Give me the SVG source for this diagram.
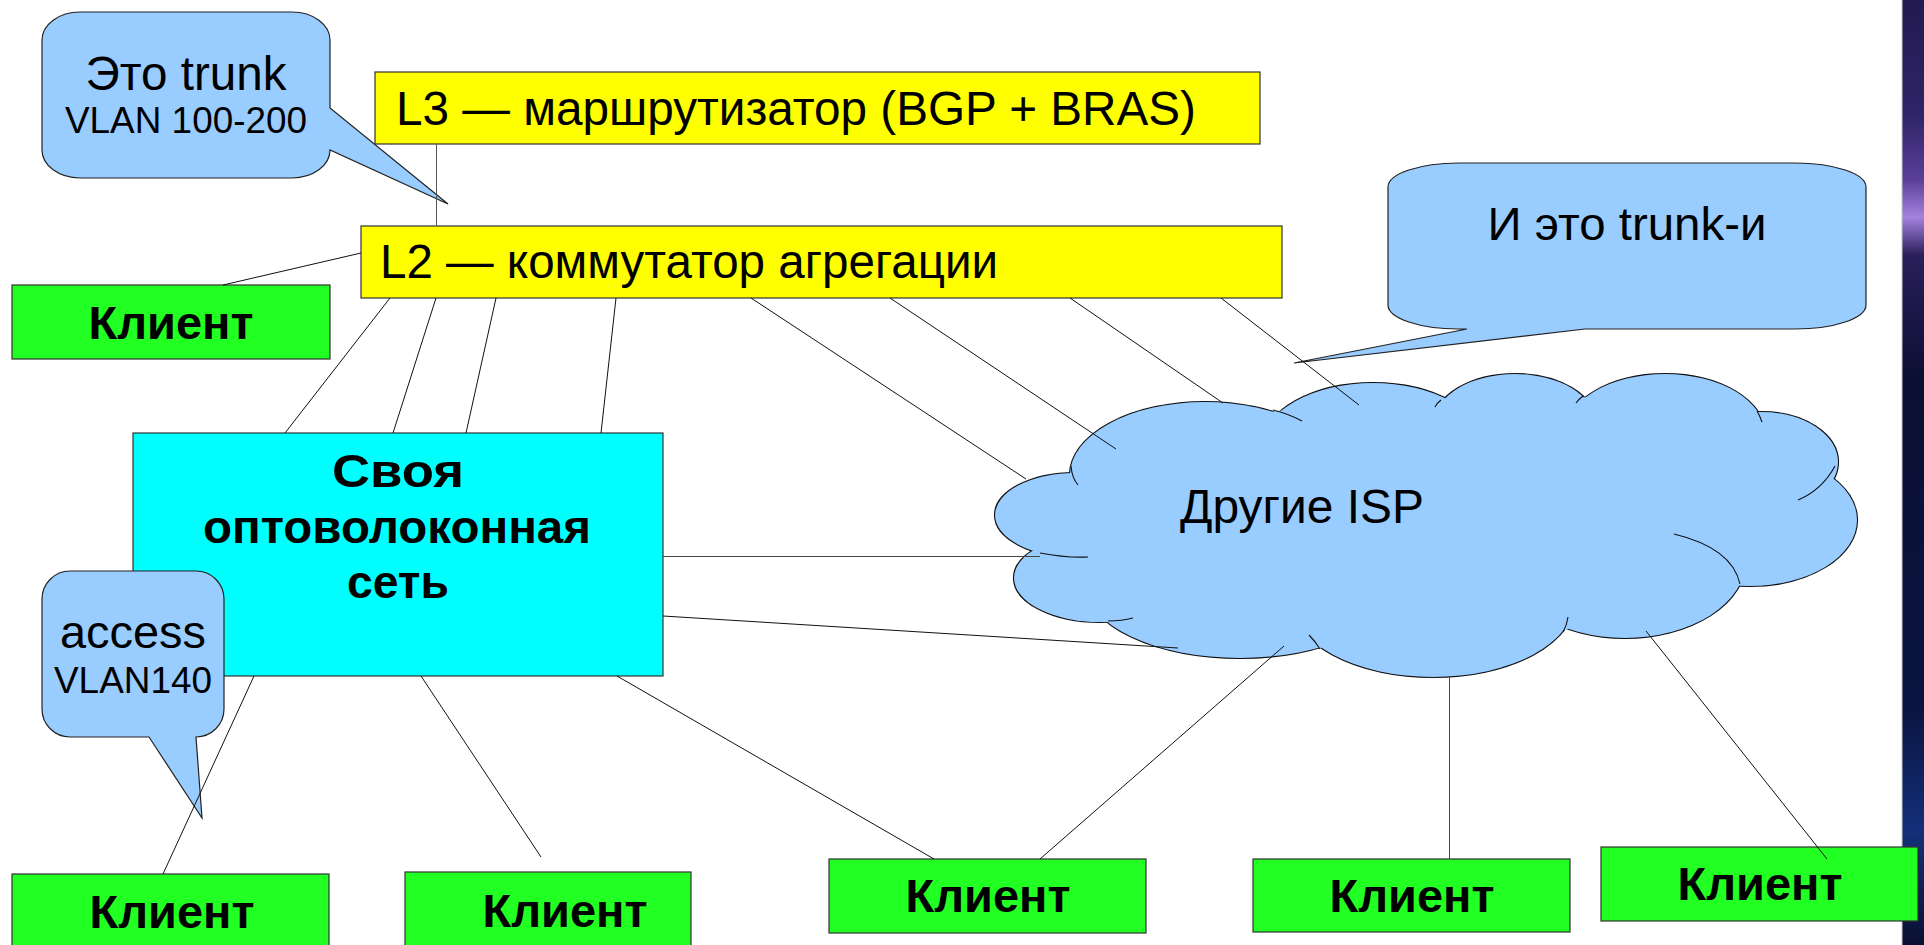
<svg xmlns="http://www.w3.org/2000/svg" width="1924" height="945" viewBox="0 0 1924 945">
<defs>
<linearGradient id="band" x1="0" y1="0" x2="0" y2="1">
<stop offset="0" stop-color="#231a52"/>
<stop offset="0.12" stop-color="#2e2466"/>
<stop offset="0.19" stop-color="#5a3f9a"/>
<stop offset="0.23" stop-color="#a482e0"/>
<stop offset="0.27" stop-color="#2a1f5a"/>
<stop offset="0.4" stop-color="#0b0f33"/>
<stop offset="0.75" stop-color="#0a1440"/>
<stop offset="0.88" stop-color="#14307a"/>
<stop offset="1" stop-color="#0a0f30"/>
</linearGradient>
<style>
.box{stroke:#333;stroke-width:1.2}
.yel{fill:#ffff00}
.grn{fill:#22ff22}
.cyn{fill:#00ffff}
.call{fill:#99ccff;stroke:#222;stroke-width:1.2}
.cl{fill:#99ccff}
.cls{fill:none;stroke:#111;stroke-width:2.2}
.tick{fill:none;stroke:#111;stroke-width:1.1}
.t{font-family:"Liberation Sans",Arial,sans-serif;fill:#000}
.b{font-weight:bold}
.ln{stroke:#111;stroke-width:1;fill:none}
</style>
</defs>
<rect x="0" y="0" width="1924" height="945" fill="#ffffff"/>
<rect x="1902" y="0" width="22" height="945" fill="url(#band)"/>
<line x1="1902" y1="0" x2="1902" y2="945" stroke="#c8c8c8" stroke-width="1"/>

<g id="l3">
<rect class="box yel" x="375" y="72" width="885" height="72"/>
<text class="t" x="396" y="125" font-size="48" textLength="800" lengthAdjust="spacingAndGlyphs">L3 — маршрутизатор (BGP + BRAS)</text>
</g>
<g id="l2">
<rect class="box yel" x="361" y="226" width="921" height="72"/>
<text class="t" x="380" y="278" font-size="48" textLength="618" lengthAdjust="spacingAndGlyphs">L2 — коммутатор агрегации</text>
</g>
<g id="client-top">
<rect class="box grn" x="12" y="285" width="318" height="74"/>
<text class="t b" x="171" y="339" font-size="46" text-anchor="middle" textLength="165" lengthAdjust="spacingAndGlyphs">Клиент</text>
</g>
<g id="fiber">
<rect class="box cyn" x="133" y="433" width="530" height="243"/>
<text class="t b" x="398" y="487" font-size="46" text-anchor="middle" textLength="132" lengthAdjust="spacingAndGlyphs">Своя</text>
<text class="t b" x="397" y="543" font-size="46" text-anchor="middle" textLength="388" lengthAdjust="spacingAndGlyphs">оптоволоконная</text>
<text class="t b" x="398" y="598" font-size="46" text-anchor="middle" textLength="102" lengthAdjust="spacingAndGlyphs">сеть</text>
</g>
<g id="client-b1">
<rect class="box grn" x="12" y="874" width="317" height="80"/>
<text class="t b" x="172" y="928" font-size="46" text-anchor="middle" textLength="165" lengthAdjust="spacingAndGlyphs">Клиент</text>
</g>
<g id="client-b2">
<rect class="box grn" x="405" y="872" width="286" height="80"/>
<text class="t b" x="565" y="927" font-size="46" text-anchor="middle" textLength="165" lengthAdjust="spacingAndGlyphs">Клиент</text>
</g>
<g id="client-b3">
<rect class="box grn" x="829" y="859" width="317" height="74"/>
<text class="t b" x="988" y="912" font-size="46" text-anchor="middle" textLength="165" lengthAdjust="spacingAndGlyphs">Клиент</text>
</g>
<g id="client-b4">
<rect class="box grn" x="1253" y="859" width="317" height="73"/>
<text class="t b" x="1412" y="912" font-size="46" text-anchor="middle" textLength="165" lengthAdjust="spacingAndGlyphs">Клиент</text>
</g>
<g id="client-b5">
<rect class="box grn" x="1601" y="847" width="317" height="74"/>
<text class="t b" x="1760" y="900" font-size="46" text-anchor="middle" textLength="165" lengthAdjust="spacingAndGlyphs">Клиент</text>
</g>

<g id="cloud">
<g class="cls">
<ellipse cx="1205" cy="475" rx="135" ry="73"/>
<ellipse cx="1373" cy="445" rx="110" ry="62"/>
<ellipse cx="1515" cy="422" rx="80" ry="48"/>
<ellipse cx="1665" cy="434" rx="100" ry="60"/>
<ellipse cx="1762" cy="462" rx="76" ry="50"/>
<ellipse cx="1750" cy="520" rx="107" ry="66"/>
<ellipse cx="1625" cy="560" rx="121" ry="78"/>
<ellipse cx="1433" cy="600" rx="142" ry="77"/>
<ellipse cx="1240" cy="585" rx="154" ry="73"/>
<ellipse cx="1100" cy="578" rx="86" ry="44"/>
<ellipse cx="1075" cy="515" rx="80" ry="42"/>
</g>
<g class="cl">
<ellipse cx="1205" cy="475" rx="135" ry="73"/>
<ellipse cx="1373" cy="445" rx="110" ry="62"/>
<ellipse cx="1515" cy="422" rx="80" ry="48"/>
<ellipse cx="1665" cy="434" rx="100" ry="60"/>
<ellipse cx="1762" cy="462" rx="76" ry="50"/>
<ellipse cx="1750" cy="520" rx="107" ry="66"/>
<ellipse cx="1625" cy="560" rx="121" ry="78"/>
<ellipse cx="1433" cy="600" rx="142" ry="77"/>
<ellipse cx="1240" cy="585" rx="154" ry="73"/>
<ellipse cx="1100" cy="578" rx="86" ry="44"/>
<ellipse cx="1075" cy="515" rx="80" ry="42"/>
<polygon points="1072,474 1275,411 1440,400 1582,397 1758,413 1828,480 1740,584 1565,630 1318,648 1112,622 1038,553"/>
</g>
<g class="tick">
<path d="M1071,466 Q1072,478 1078,485"/>
<path d="M1273,410 Q1289,414 1302,421"/>
<path d="M1441,400 Q1437,403 1435,407"/>
<path d="M1583,396 Q1579,399 1576,403"/>
<path d="M1757,411 Q1760,416 1762,422"/>
<path d="M1835,466 Q1822,490 1798,500"/>
<path d="M1674,534 Q1732,548 1740,584"/>
<path d="M1568,617 Q1567,625 1563,632"/>
<path d="M1320,649 Q1315,641 1309,635"/>
<path d="M1108,621 Q1122,621 1133,618"/>
<path d="M1040,553 Q1066,558 1088,557"/>
</g>
<text class="t" x="1180" y="523" font-size="48" textLength="244" lengthAdjust="spacingAndGlyphs">Другие ISP</text>
</g>

<g id="callout-trunk">
<path class="call" d="M80,12 H292 A38,28 0 0 1 330,40 V108 L448,204 L330,150 A38,28 0 0 1 292,178 H80 A38,28 0 0 1 42,150 V40 A38,28 0 0 1 80,12 Z"/>
<text class="t" x="186" y="90" font-size="48" text-anchor="middle" textLength="201" lengthAdjust="spacingAndGlyphs">Это trunk</text>
<text class="t" x="186" y="133" font-size="36" text-anchor="middle" textLength="242" lengthAdjust="spacingAndGlyphs">VLAN 100-200</text>
</g>
<g id="callout-access">
<path class="call" d="M70,571 H196 A28,28 0 0 1 224,599 V709 A28,28 0 0 1 196,737 L202,818 L149,737 H70 A28,28 0 0 1 42,709 V599 A28,28 0 0 1 70,571 Z"/>
<text class="t" x="133" y="648" font-size="47" text-anchor="middle" textLength="146" lengthAdjust="spacingAndGlyphs">access</text>
<text class="t" x="133" y="693" font-size="36" text-anchor="middle" textLength="158" lengthAdjust="spacingAndGlyphs">VLAN140</text>
</g>
<g id="callout-trunks">
<path class="call" d="M1459,163 H1795 A71,24 0 0 1 1866,187 V305 A71,24 0 0 1 1795,329 H1585 L1294,363 L1467,329 H1459 A71,24 0 0 1 1388,305 V187 A71,24 0 0 1 1459,163 Z"/>
<text class="t" x="1627" y="240" font-size="47" text-anchor="middle" textLength="279" lengthAdjust="spacingAndGlyphs">И это trunk-и</text>
</g>

<g id="connectors" class="ln">
<line x1="436.5" y1="144" x2="436.5" y2="226" stroke="#555"/>
<line x1="361" y1="253" x2="223" y2="285"/>
<line x1="390" y1="298" x2="285" y2="433"/>
<line x1="436" y1="298" x2="393" y2="433"/>
<line x1="496" y1="298" x2="466" y2="433"/>
<line x1="616" y1="298" x2="601" y2="433"/>
<line x1="751" y1="298" x2="1026" y2="479"/>
<line x1="890" y1="298" x2="1116" y2="449"/>
<line x1="1070" y1="298" x2="1223" y2="403"/>
<line x1="1221" y1="298" x2="1359" y2="405"/>
<line x1="663" y1="556.5" x2="1040" y2="556.5" stroke="#444"/>
<line x1="663" y1="616" x2="1178" y2="648"/>
<line x1="254" y1="676" x2="163" y2="874"/>
<line x1="421" y1="676" x2="541" y2="857"/>
<line x1="617" y1="676" x2="934" y2="859"/>
<line x1="1284" y1="646" x2="1040" y2="859"/>
<line x1="1449.5" y1="676" x2="1449.5" y2="859" stroke="#444"/>
<line x1="1646" y1="631" x2="1827" y2="859"/>
</g>
</svg>
